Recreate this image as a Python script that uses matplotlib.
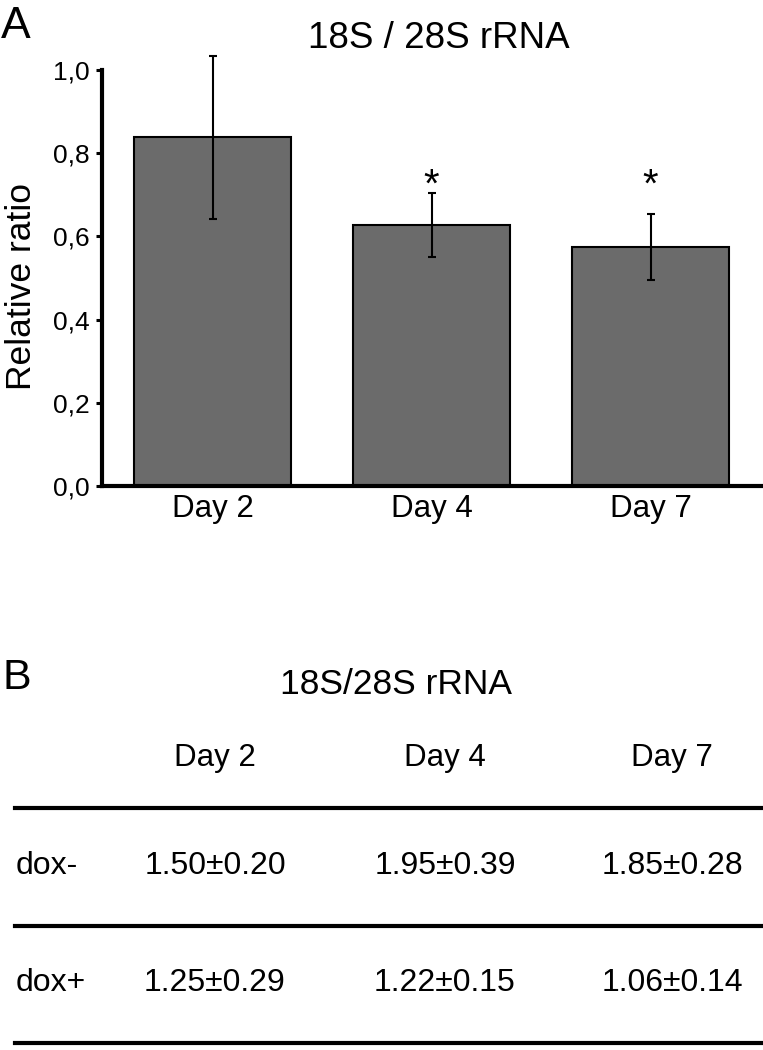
import matplotlib
matplotlib.use("Agg")
import matplotlib.pyplot as plt
from matplotlib.lines import Line2D

plt.rcParams['font.family'] = ['Liberation Sans', 'DejaVu Sans']

# ---- Data: panel A ----
days = ["Day 2", "Day 4", "Day 7"]
ratio = [0.838, 0.627, 0.575]
ratio_err = [0.195, 0.077, 0.079]
significant = [False, True, True]
y_ticks = [0.0, 0.2, 0.4, 0.6, 0.8, 1.0]
y_tick_labels = ["0,0", "0,2", "0,4", "0,6", "0,8", "1,0"]

# ---- Data: panel B (table) ----
table_cols = ["Day 2", "Day 4", "Day 7"]
table_rows = ["dox-", "dox+"]
dox_minus_mean = [1.50, 1.95, 1.85]
dox_minus_sd = [0.20, 0.39, 0.28]
dox_plus_mean = [1.25, 1.22, 1.06]
dox_plus_sd = [0.29, 0.15, 0.14]

W, H = 763, 1050
fig = plt.figure(figsize=(W / 100, H / 100), dpi=100)

# ---------------- Panel A ----------------
ax = fig.add_axes([102 / W, 1 - 486 / H, 660 / W, 416 / H])
x = list(range(len(days)))
ax.bar(x, ratio, width=0.717, color="#6b6b6b", edgecolor="black", linewidth=1.5, zorder=2)
eb = ax.errorbar(x, ratio, yerr=ratio_err, fmt="none", ecolor="black", elinewidth=1.5,
                 capsize=2.8, capthick=1.5, zorder=3)
for art in list(eb.lines[1]) + list(eb.lines[2]):
    art.set_clip_on(False)
star_y = 0.722
for xi, sig in zip(x, significant):
    if sig:
        ax.text(xi, star_y, "*", ha="center", va="center", fontsize=29, color="black")

ax.set_xlim(-0.5046, 2.509)
ax.set_ylim(0, 1.0)
ax.set_yticks(y_ticks)
ax.set_yticklabels(y_tick_labels, fontsize=19)
ax.set_xticks(x)
ax.set_xticklabels(days, fontsize=22.5)
ax.tick_params(axis="y", direction="out", length=4, width=2.2, pad=5)
ax.tick_params(axis="x", length=0, pad=6)
for s in ["top", "right"]:
    ax.spines[s].set_visible(False)
for s in ["left", "bottom"]:
    ax.spines[s].set_linewidth(3)
ax.set_title("18S / 28S rRNA", fontsize=26.5, x=(439 - 102) / 660, pad=16)
fig.text(5 / W, 1 - 287 / H, "Relative ratio", rotation=90, fontsize=25.5,
         ha="left", va="center")
fig.text(1 / W, 1 - 27 / H, "A", fontsize=32, ha="left", va="center")

# ---------------- Panel B ----------------
tb = fig.add_axes([0, 0, 1, 1])
tb.set_xlim(0, W)
tb.set_ylim(H, 0)
tb.axis("off")

tb.text(2, 678, "B", fontsize=31, ha="left", va="center")
tb.text(396, 684, "18S/28S rRNA", fontsize=25.5, ha="center", va="center")

col_x = [215, 445, 672]
header_y = 758
row_y = [866, 983]
line_y = [808, 926, 1043]

for cx, name in zip(col_x, table_cols):
    tb.text(cx, header_y, name, fontsize=22.5, ha="center", va="center")

for yl in line_y:
    tb.add_line(Line2D([15, 761], [yl, yl], color="black", linewidth=3))

rows = [(dox_minus_mean, dox_minus_sd), (dox_plus_mean, dox_plus_sd)]
for ry, label, (means, sds) in zip(row_y, table_rows, rows):
    tb.text(16, ry, label, fontsize=23, ha="left", va="center")
    for cx, m, s in zip(col_x, means, sds):
        tb.text(cx, ry, f"{m:.2f}\u00b1{s:.2f}", fontsize=23, ha="center", va="center")

fig.savefig("out.png", dpi=100)
